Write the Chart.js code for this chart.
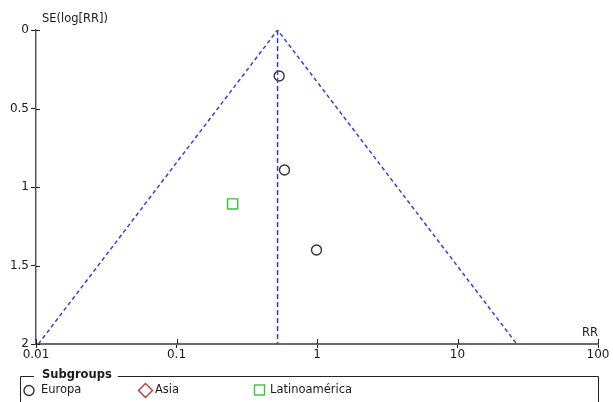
<!DOCTYPE html>
<html>
<head>
<meta charset="utf-8">
<title>Funnel plot</title>
<script src="https://cdn.jsdelivr.net/npm/chart.js@4/dist/chart.umd.min.js"></script>
<style>
  html, body { margin: 0; padding: 0; background: #fff; }
  #wrap { width: 613px; height: 402px; position: relative; }
</style>
</head>
<body>
<div id="wrap"><canvas id="c" width="613" height="402"></canvas></div>
<script>
// Studies by subgroup: risk ratio and standard error of log(RR)
const europaRR = [0.538, 0.587, 0.992];
const europaSE = [0.293, 0.892, 1.401];
const asiaRR = [];
const asiaSE = [];
const latamRR = [0.251];
const latamSE = [1.108];

// Pooled estimate and 95% funnel limits (at SE 2, apex, SE 2)
const pooledRR = 0.524;
const funnelRR = [0.0104, 0.524, 26.4];
const funnelSE = [2, 0, 2];

// Axis ticks
const xTicks = [0.01, 0.1, 1, 10, 100];
const yTicks = [0, 0.5, 1, 1.5, 2];

const FONT = "'DejaVu Sans', sans-serif";
const BLUE = '#3c3ce0';
const TEXT = '#1a1a1a';

const toPts = (xs, ys) => xs.map((x, i) => ({ x: x, y: ys[i] }));

// Draws tick marks that cross the axis line, plus axis titles and the subgroup legend
const decorPlugin = {
  id: 'decor',
  afterDraw(chart) {
    const ctx = chart.ctx;
    const xs = chart.scales.x, ys = chart.scales.y;
    const area = chart.chartArea;
    ctx.save();
    ctx.strokeStyle = '#222';
    ctx.lineWidth = 1;
    xTicks.forEach(v => {
      const px = Math.round(xs.getPixelForValue(v)) + 0.5;
      ctx.beginPath();
      ctx.moveTo(px, area.bottom);
      ctx.lineTo(px, area.bottom - 5);
      ctx.stroke();
    });
    yTicks.forEach(v => {
      const py = Math.round(ys.getPixelForValue(v)) + 0.5;
      ctx.beginPath();
      ctx.moveTo(area.left, py);
      ctx.lineTo(area.left + 4, py);
      ctx.stroke();
    });

    // axis titles
    ctx.fillStyle = TEXT;
    ctx.font = '11.5px ' + FONT;
    ctx.textBaseline = 'middle';
    ctx.textAlign = 'left';
    ctx.fillText('SE(log[RR])', 42, 19);
    ctx.textAlign = 'right';
    ctx.fillText('RR', area.right, 333);

    // legend frame with title set into its top edge
    const lx0 = 20.5, lx1 = 598.5, ly = 376.5;
    ctx.font = 'bold 11.5px ' + FONT;
    ctx.textAlign = 'left';
    const title = 'Subgroups';
    const tx = 42;
    const tw = ctx.measureText(title).width;
    ctx.fillText(title, tx, 375);
    ctx.strokeStyle = '#222';
    ctx.beginPath();
    ctx.moveTo(lx0, 410);
    ctx.lineTo(lx0, ly);
    ctx.lineTo(tx - 8, ly);
    ctx.moveTo(tx + tw + 6, ly);
    ctx.lineTo(lx1, ly);
    ctx.lineTo(lx1, 410);
    ctx.stroke();

    // legend entries
    const iy = 390.5;
    ctx.font = '11.5px ' + FONT;
    ctx.lineWidth = 1.4;
    // Europa: open circle
    ctx.strokeStyle = '#333';
    ctx.beginPath();
    ctx.arc(29, iy, 5, 0, Math.PI * 2);
    ctx.stroke();
    ctx.fillText('Europa', 41, iy);
    // Asia: open diamond
    ctx.strokeStyle = '#c83232';
    ctx.beginPath();
    ctx.moveTo(145.5, iy - 7);
    ctx.lineTo(152.5, iy);
    ctx.lineTo(145.5, iy + 7);
    ctx.lineTo(138.5, iy);
    ctx.closePath();
    ctx.stroke();
    ctx.fillText('Asia', 155, iy);
    // Latinoamérica: open square
    ctx.strokeStyle = '#32c832';
    ctx.strokeRect(254.5, 385, 10, 10);
    ctx.fillText('Latinoamérica', 270, iy);
    ctx.restore();
  }
};

new Chart(document.getElementById('c'), {
  type: 'scatter',
  data: {
    datasets: [
      {
        label: 'Funnel',
        data: toPts(funnelRR, funnelSE),
        showLine: true,
        borderColor: BLUE,
        borderWidth: 1.5,
        borderDash: [4, 3],
        pointRadius: 0,
        fill: false
      },
      {
        label: 'Pooled',
        data: toPts([pooledRR, pooledRR], [0, 2]),
        showLine: true,
        borderColor: BLUE,
        borderWidth: 1.5,
        borderDash: [5, 3],
        pointRadius: 0,
        fill: false
      },
      {
        label: 'Europa',
        data: toPts(europaRR, europaSE),
        pointStyle: 'circle',
        pointRadius: 5,
        borderColor: '#333',
        borderWidth: 1.4,
        backgroundColor: 'rgba(255,255,255,0)',
        clip: false
      },
      {
        label: 'Asia',
        data: toPts(asiaRR, asiaSE),
        pointStyle: 'rectRot',
        pointRadius: 7,
        borderColor: '#c83232',
        borderWidth: 1.4,
        backgroundColor: 'rgba(255,255,255,0)',
        clip: false
      },
      {
        label: 'Latinoamérica',
        data: toPts(latamRR, latamSE),
        pointStyle: 'rect',
        pointRadius: 7.2,
        borderColor: '#32c832',
        borderWidth: 1.4,
        backgroundColor: 'rgba(255,255,255,0)',
        clip: false
      }
    ]
  },
  options: {
    responsive: false,
    animation: false,
    events: [],
    layout: { padding: { top: 30, right: 15, left: 0, bottom: 0 } },
    plugins: { legend: { display: false }, tooltip: { enabled: false } },
    scales: {
      x: {
        type: 'logarithmic',
        position: 'bottom',
        min: 0.01,
        max: 100,
        afterBuildTicks: s => { s.ticks = xTicks.map(v => ({ value: v })); },
        afterFit: s => { s.height = 58; },
        border: { color: '#6a6a6a', width: 2 },
        grid: { drawOnChartArea: false, drawTicks: true, tickLength: 4, color: '#222' },
        ticks: {
          autoSkip: false,
          maxRotation: 0,
          padding: 0,
          color: TEXT,
          font: { family: FONT, size: 12 },
          callback: v => String(v)
        }
      },
      y: {
        type: 'linear',
        reverse: true,
        min: 0,
        max: 2,
        afterBuildTicks: s => { s.ticks = yTicks.map(v => ({ value: v })); },
        afterFit: s => { s.width = 36; },
        border: { color: '#555', width: 1.5 },
        grid: { drawOnChartArea: false, drawTicks: true, tickLength: 5, color: '#222' },
        ticks: {
          padding: 2,
          color: TEXT,
          font: { family: FONT, size: 12 },
          callback: v => String(v)
        }
      }
    }
  },
  plugins: [decorPlugin]
});
</script>
</body>
</html>
